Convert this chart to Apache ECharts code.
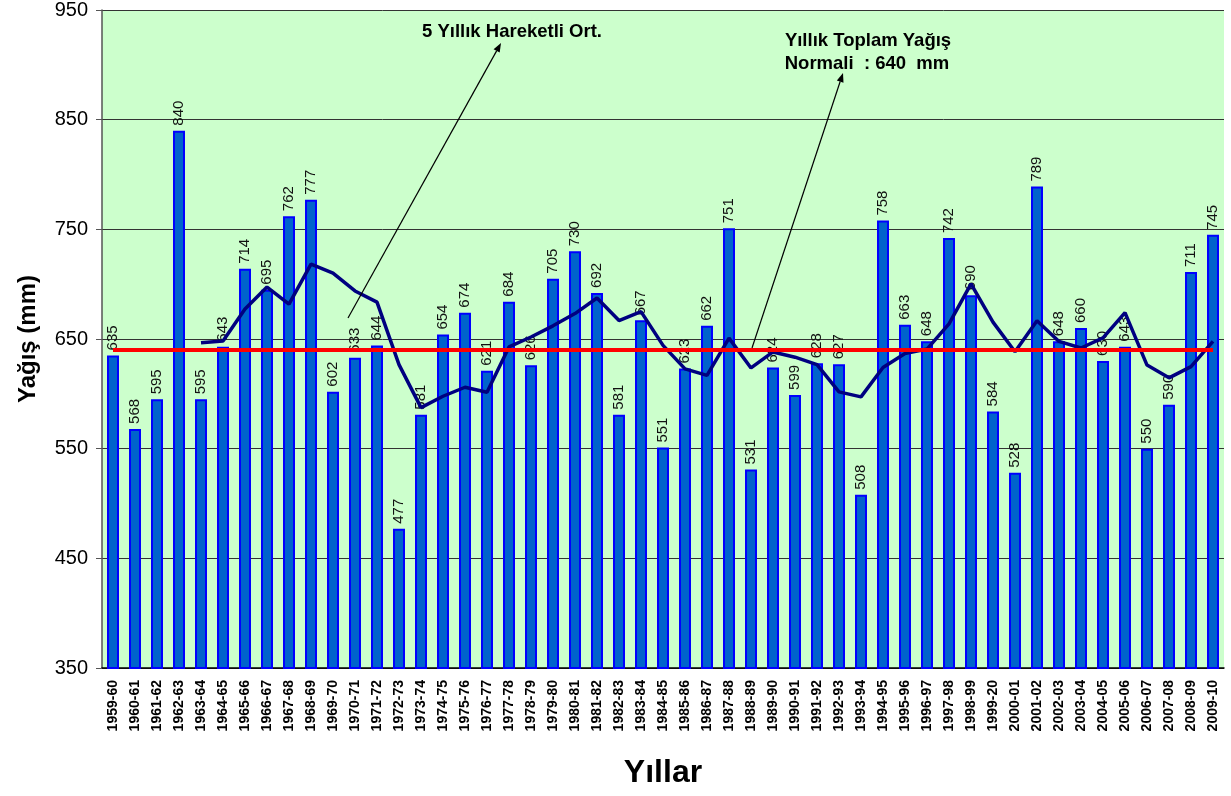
<!DOCTYPE html>
<html>
<head>
<meta charset="utf-8">
<script src="https://cdn.jsdelivr.net/npm/echarts@6/dist/echarts.min.js"></script>
<style>
  html, body { margin: 0; padding: 0; background: #fff; }
  #chartBox { width: 1231px; height: 796px; }
</style>
</head>
<body>
<div id="chartBox"></div>
<script>
const years = [
  '1959-60','1960-61','1961-62','1962-63','1963-64','1964-65','1965-66','1966-67','1967-68','1968-69',
  '1969-70','1970-71','1971-72','1972-73','1973-74','1974-75','1975-76','1976-77','1977-78','1978-79',
  '1979-80','1980-81','1981-82','1982-83','1983-84','1984-85','1985-86','1986-87','1987-88','1988-89',
  '1989-90','1990-91','1991-92','1992-93','1993-94','1994-95','1995-96','1996-97','1997-98','1998-99',
  '1999-20','2000-01','2001-02','2002-03','2003-04','2004-05','2005-06','2006-07','2007-08','2008-09',
  '2009-10'
]
const rainfall = [
  635, 568, 595, 840, 595, 643, 714, 695, 762, 777,
  602, 633, 644, 477, 581, 654, 674, 621, 684, 626,
  705, 730, 692, 581, 667, 551, 623, 662, 751, 531,
  624, 599, 628, 627, 508, 758, 663, 648, 742, 690,
  584, 528, 789, 648, 660, 630, 643, 550, 590, 711,
  745
]
// 5 yillik hareketli ortalama
const movingAvg = [
  null, null, null, null, 646.6, 648.2, 677.4, 697.4, 681.8, 718.2,
  710.0, 693.8, 683.6, 626.6, 587.4, 597.8, 606.0, 601.4, 642.8, 651.8,
  662.0, 673.2, 687.4, 666.8, 675.0, 644.2, 622.8, 616.8, 650.8, 623.6,
  638.2, 633.4, 626.6, 601.8, 597.2, 624.0, 636.8, 640.8, 663.8, 700.2,
  665.4, 638.4, 666.6, 647.8, 641.8, 651.0, 674.0, 626.2, 614.6, 624.8,
  647.8
]
const normalValue = 640
const yTicks = { min: 350, max: 950, step: 100 }

const font = 'Liberation Sans, Arial, sans-serif'

const arrow = (x1, y1, x2, y2) => {
  const ang = Math.atan2(y2 - y1, x2 - x1)
  const len = 9, half = 3.5
  const bx = x2 - len * Math.cos(ang), by = y2 - len * Math.sin(ang)
  return [
    { type: 'line', shape: { x1, y1, x2: bx, y2: by }, style: { stroke: '#000', lineWidth: 1.2 }, z: 100 },
    {
      type: 'polygon',
      shape: { points: [[x2, y2],
        [bx + half * Math.sin(ang), by - half * Math.cos(ang)],
        [bx - half * Math.sin(ang), by + half * Math.cos(ang)]] },
      style: { fill: '#000' }, z: 100
    }
  ]
}

const note = (text, x, y) => ({
  type: 'text', x, y, z: 100,
  style: {
    text, fill: '#000',
    fontFamily: font, fontWeight: 'bold', fontSize: 18.5,
    align: 'center', verticalAlign: 'middle'
  }
})

const chartBox = echarts.init(document.getElementById('chartBox'))
const option = {
  backgroundColor: '#fff',
  animation: false,
  grid: {
    left: 102, right: 7, top: 10, bottom: 128,
    outerBoundsMode: 'none', containLabel: false,
    show: true, backgroundColor: '#ccffcc', borderColor: '#a8d8a8', borderWidth: 0
  },
  xAxis: {
    type: 'category',
    data: years,
    name: 'Yıllar',
    nameLocation: 'middle',
    nameGap: 89,
    nameTextStyle: { fontFamily: font, fontWeight: 'bold', fontSize: 32, color: '#000' },
    axisLine: { lineStyle: { color: '#000', width: 1.5 } },
    axisTick: { length: 5, lineStyle: { color: '#555' } },
    axisLabel: {
      rotate: 90, interval: 0, margin: 12,
      fontFamily: font, fontWeight: 'bold', fontSize: 14, color: '#000'
    }
  },
  yAxis: {
    type: 'value',
    min: yTicks.min, max: yTicks.max, interval: yTicks.step,
    name: 'Yağış (mm)',
    nameLocation: 'middle',
    nameGap: 62,
    nameTextStyle: { fontFamily: font, fontWeight: 'bold', fontSize: 24, color: '#000' },
    axisLine: { show: true, lineStyle: { color: '#555', width: 1.5 } },
    axisTick: { show: true, length: 6, lineStyle: { color: '#555' } },
    axisLabel: { fontFamily: font, fontSize: 20, color: '#000', margin: 14 },
    splitLine: { show: true, lineStyle: { color: '#333', width: 1 } }
  },
  series: [
    {
      name: 'Yağış',
      type: 'bar',
      data: rainfall,
      barWidth: 12,
      itemStyle: { color: '#0063cc', borderColor: '#0000ff', borderWidth: 2 },
      label: {
        show: true, position: 'top', rotate: 90, distance: 5,
        align: 'left', verticalAlign: 'middle',
        fontFamily: font, fontSize: 15, color: '#111'
      },
      z: 2
    },
    {
      name: 'Normal',
      type: 'line',
      data: [],
      markLine: {
        silent: true, symbol: ['none', 'none'],
        label: { show: false },
        lineStyle: { color: '#ff0000', width: 4, type: 'solid' },
        data: [[{ coord: [years[0], normalValue] }, { coord: [years[years.length - 1], normalValue] }]]
      },
      z: 3
    },
    {
      name: '5 Yıllık Hareketli Ort.',
      type: 'line',
      data: movingAvg,
      showSymbol: false,
      symbol: 'none',
      lineStyle: { color: '#000080', width: 3.5 },
      z: 4
    }
  ],
  graphic: [
    note('5 Yıllık Hareketli Ort.', 512, 32),
    note('Yıllık Toplam Yağış', 868, 41),
    note('Normali  : 640  mm', 867, 64),
    ...arrow(348, 318, 501, 43),
    ...arrow(752, 348, 843, 73)
  ]
}
chartBox.setOption(option)
</script>
</body>
</html>
